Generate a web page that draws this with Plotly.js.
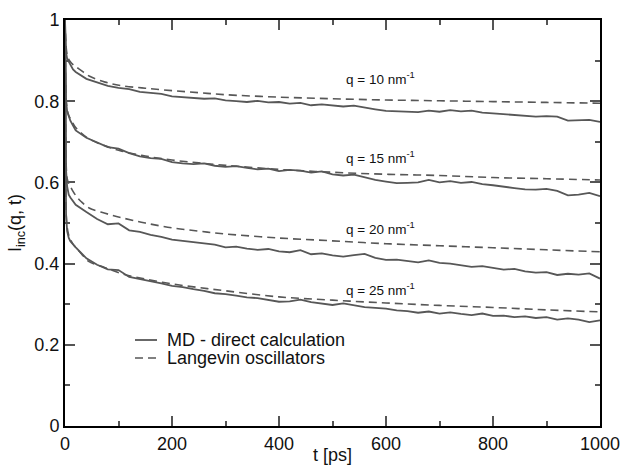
<!DOCTYPE html>
<html>
<head>
<meta charset="utf-8">
<script src="https://cdn.plot.ly/plotly-3.0.1.min.js"></script>
<style>html,body{margin:0;padding:0;background:#fff;}#chart{width:622px;height:465px;}</style>
</head>
<body>
<div id="chart"></div>
<script>
// Time grid for MD curves (ps)
const mdTime = [0,1,2,4,7,10,15,20,40,60,80,100,120,140,160,180,200,220,240,260,280,300,320,340,360,380,400,420,440,460,480,500,520,540,560,580,600,620,640,660,680,700,720,740,760,780,800,820,840,860,880,900,920,940,960,980,1000];
// MD - direct calculation
const md10 = [1.0,0.95,0.92,0.905,0.895,0.89,0.878,0.872,0.855,0.846,0.838,0.833,0.83,0.823,0.821,0.818,0.812,0.81,0.808,0.806,0.807,0.802,0.8,0.798,0.801,0.797,0.798,0.794,0.796,0.79,0.792,0.789,0.787,0.789,0.784,0.78,0.776,0.775,0.774,0.773,0.777,0.774,0.778,0.775,0.777,0.772,0.77,0.768,0.765,0.763,0.762,0.763,0.762,0.752,0.753,0.754,0.749];
const md15 = [1.0,0.85,0.8,0.775,0.76,0.752,0.74,0.728,0.71,0.698,0.687,0.683,0.672,0.664,0.66,0.658,0.65,0.647,0.645,0.647,0.641,0.638,0.64,0.636,0.632,0.634,0.628,0.631,0.629,0.624,0.627,0.62,0.617,0.619,0.613,0.606,0.602,0.598,0.599,0.6,0.606,0.6,0.603,0.599,0.601,0.596,0.593,0.589,0.586,0.583,0.582,0.584,0.579,0.568,0.57,0.574,0.566];
const md20 = [1.0,0.7,0.63,0.59,0.57,0.563,0.555,0.545,0.527,0.51,0.497,0.499,0.482,0.478,0.471,0.466,0.459,0.456,0.453,0.449,0.447,0.44,0.442,0.437,0.434,0.436,0.43,0.428,0.433,0.423,0.425,0.42,0.417,0.421,0.424,0.414,0.409,0.41,0.407,0.403,0.408,0.402,0.4,0.396,0.392,0.394,0.389,0.385,0.387,0.381,0.378,0.379,0.372,0.375,0.373,0.376,0.363];
const md25 = [1.0,0.6,0.52,0.48,0.463,0.455,0.447,0.44,0.413,0.397,0.386,0.384,0.367,0.362,0.356,0.351,0.345,0.342,0.337,0.333,0.327,0.325,0.321,0.317,0.315,0.31,0.306,0.307,0.311,0.305,0.302,0.298,0.302,0.297,0.293,0.291,0.289,0.285,0.283,0.279,0.282,0.277,0.28,0.276,0.273,0.277,0.271,0.272,0.268,0.27,0.266,0.268,0.262,0.265,0.262,0.256,0.26];
// Langevin oscillators
const lgTime = [0,1,2,4,7,10,15,20,30,45,75,106,150,200,250,300,400,500,600,700,800,900,1000];
const lg10 = [1.0,0.96,0.935,0.915,0.903,0.897,0.89,0.885,0.876,0.862,0.847,0.838,0.832,0.826,0.821,0.816,0.81,0.806,0.803,0.801,0.799,0.797,0.795];
const lg15 = [1.0,0.86,0.81,0.78,0.765,0.757,0.745,0.735,0.722,0.707,0.69,0.677,0.665,0.655,0.648,0.642,0.632,0.625,0.62,0.617,0.612,0.609,0.606];
const lg20 = [1.0,0.72,0.65,0.61,0.597,0.59,0.578,0.568,0.553,0.537,0.524,0.513,0.5,0.488,0.48,0.473,0.463,0.456,0.449,0.444,0.439,0.434,0.429];
const lg25 = [1.0,0.62,0.53,0.49,0.47,0.46,0.448,0.44,0.425,0.405,0.39,0.375,0.362,0.35,0.341,0.333,0.318,0.31,0.303,0.297,0.292,0.286,0.281];
// Curve labels
const labelText = ["q = 10 nm<sup>-1</sup>","q = 15 nm<sup>-1</sup>","q = 20 nm<sup>-1</sup>","q = 25 nm<sup>-1</sup>"];
const labelT = [590,590,590,590];
const labelY = [0.857,0.663,0.488,0.337];
// Legend texts
const legendNames = ['MD - direct calculation','Langevin oscillators'];

const lineColor = '#575757';
const tickCol = '#555';
const mdSeries = [md10, md15, md20, md25];
const lgSeries = [lg10, lg15, lg20, lg25];
const traces = [];
mdSeries.forEach((ys,i)=>{
  traces.push({x: mdTime, y: ys, mode:'lines', type:'scatter',
    line:{color:lineColor, width:1.8}, name:legendNames[0], showlegend:false, hoverinfo:'skip'});
  traces.push({x: lgTime, y: lgSeries[i], mode:'lines', type:'scatter',
    line:{color:lineColor, width:1.6, dash:'8px,5px', shape:'spline'},
    name:legendNames[1], showlegend:false, hoverinfo:'skip'});
});

const fam = 'Liberation Sans, Arial, sans-serif';
const PW = 535, PH = 406;             // plot area size in px
const pxX = v => (v-65)/PW, pxY = v => (426-v)/PH;

const layout = {
  width:622, height:465,
  margin:{l:65, r:22, t:20, b:39},
  paper_bgcolor:'#fff', plot_bgcolor:'rgba(0,0,0,0)',
  font:{family:fam, color:'#111'},
  showlegend:false,
  xaxis:{range:[0,1000], dtick:200, showline:true, linecolor:'#000', linewidth:2, mirror:'allticks',
    ticks:'inside', ticklen:10, tickwidth:2, tickcolor:tickCol, showgrid:false, zeroline:false,
    tickfont:{family:fam, size:18, color:'#111'},
    title:{text:'t [ps]', font:{family:fam, size:18, color:'#111'}, standoff:0}},
  yaxis:{range:[0,1], dtick:0.2, showline:true, linecolor:'#000', linewidth:2, mirror:'allticks',
    ticks:'inside', ticklen:10, tickwidth:2, tickcolor:tickCol, showgrid:false, zeroline:false,
    tickfont:{family:fam, size:18, color:'#111'},
    title:{text:'I<sub>inc</sub>(q, t)', font:{family:fam, size:18, color:'#111'}, standoff:8}},
  annotations: labelText.map((t,i)=>({x:labelT[i], y:labelY[i], xref:'x', yref:'y', text:t, showarrow:false,
    font:{family:fam, size:13.5, color:'#111'}})).concat(
    legendNames.map((t,i)=>({x:pxX(165), y:pxY(340+18*i), xref:'paper', yref:'paper', text:t, showarrow:false,
      xanchor:'left', yanchor:'middle', font:{family:fam, size:18, color:'#111'}}))),
  shapes:[
    {type:'line', xref:'paper', yref:'paper', x0:pxX(135), x1:pxX(157), y0:pxY(340), y1:pxY(340), line:{color:lineColor, width:1.8}},
    {type:'line', xref:'paper', yref:'paper', x0:pxX(135), x1:pxX(157), y0:pxY(358), y1:pxY(358), line:{color:lineColor, width:1.6, dash:'8px,5px'}}
  ]
};

// Inward tick marks drawn as short grid lines of thin edge-strip subplots
// (major: 10 px long, minor: 5 px long) along all four sides.
const hidden = {showline:false, ticks:'', showticklabels:false, zeroline:false, fixedrange:true};
const strips = [
  // [kind, along, length px, side]
  ['x', 200, 10, 'bottom'], ['x', 100, 5, 'bottom'],
  ['x', 200, 10, 'top'],    ['x', 100, 5, 'top'],
  ['y', 0.2, 10, 'left'],   ['y', 0.1, 5, 'left'],
  ['y', 0.2, 10, 'right'],  ['y', 0.1, 5, 'right']
];
strips.forEach((s,i)=>{
  const k = i + 2, [kind, step, len, side] = s;
  const xa = Object.assign({}, hidden, {anchor:'y'+k, range:[0,1000]});
  const ya = Object.assign({}, hidden, {anchor:'x'+k, range:[0,1]});
  if (kind === 'x') {
    Object.assign(xa, {domain:[0,1], showgrid:true, dtick:step, gridcolor:tickCol, gridwidth:2});
    Object.assign(ya, {showgrid:false, domain: side==='bottom' ? [0, len/PH] : [1-len/PH, 1]});
  } else {
    Object.assign(ya, {domain:[0,1], showgrid:true, dtick:step, gridcolor:tickCol, gridwidth:2});
    Object.assign(xa, {showgrid:false, domain: side==='left' ? [0, len/PW] : [1-len/PW, 1]});
  }
  layout['xaxis'+k] = xa;
  layout['yaxis'+k] = ya;
  traces.push({x: mdTime, y: md10, mode:'none', type:'scatter', xaxis:'x'+k, yaxis:'y'+k, showlegend:false, hoverinfo:'skip'});
});

Plotly.newPlot('chart', traces, layout, {displayModeBar:false, staticPlot:true});
</script>
</body>
</html>
